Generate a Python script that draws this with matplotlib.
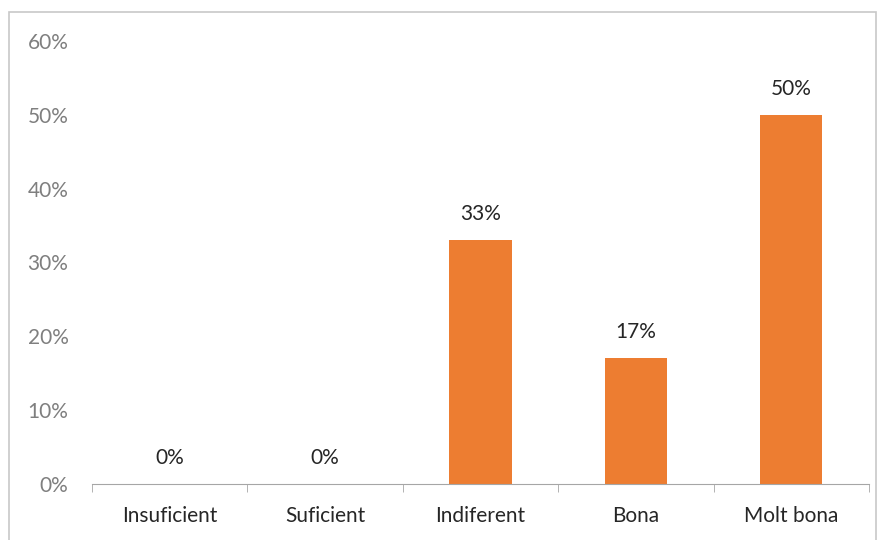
import matplotlib.pyplot as plt
from matplotlib.patches import Rectangle

categories = ['Insuficient', 'Suficient', 'Indiferent', 'Bona', 'Molt bona']
values = [0, 0, 33, 17, 50]
yticks = [0, 10, 20, 30, 40, 50, 60]

plt.rcParams['font.family'] = ['Lato', 'DejaVu Sans']

fig = plt.figure(figsize=(8.84, 5.4), dpi=100)
ax = fig.add_axes([92/884, 1-484/540, (869-92)/884, (484-41)/540])

x = list(range(len(categories)))
ax.bar(x, values, width=0.4, color='#ED7D31')
for xi, v in zip(x, values):
    ax.text(xi, v + 2.2, '%d%%' % v, ha='center', va='bottom', fontsize=15, color='#262626')

ax.set_xlim(-0.5, len(categories) - 0.5)
ax.set_ylim(0, 60)
ax.set_yticks(yticks)
ax.set_yticklabels(['%d%%' % t for t in yticks], fontsize=15, color='#7f7f7f')
ax.set_xticks(x)
ax.set_xticklabels(categories, fontsize=15, color='#262626')
ax.tick_params(axis='y', length=0, pad=17)
ax.tick_params(axis='x', length=0, pad=16)
# category separator ticks
ax.set_xticks([i - 0.5 for i in range(len(categories) + 1)], minor=True)
ax.tick_params(axis='x', which='minor', length=6, color='#a6a6a6', direction='out')

for s in ['top', 'right', 'left']:
    ax.spines[s].set_visible(False)
ax.spines['bottom'].set_color('#a6a6a6')

fig.patches.append(Rectangle((9/884, -0.05), (876-9)/884, 1.05 - 12/540,
                             transform=fig.transFigure, fill=False,
                             edgecolor='#c8c8c8', linewidth=1.2))

fig.savefig('out.png', dpi=100)
